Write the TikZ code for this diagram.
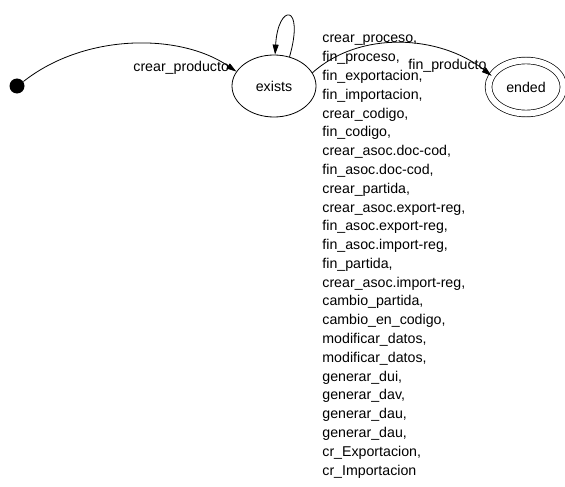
\documentclass[tikz,border=0pt]{standalone}
\usepackage{fontspec}
\setmainfont{Liberation Sans}
\usetikzlibrary{shapes.geometric,arrows.meta}

\tikzset{
  state/.style={ellipse, draw, line width=0.8pt, inner sep=0pt,
    minimum width=84pt, minimum height=62pt},
  final/.style={state, double, double distance=6pt, line width=0.7pt,
    minimum width=75pt, minimum height=53pt},
  startdot/.style={circle, fill=black, inner sep=0pt, minimum size=15pt},
  lbl/.style={inner sep=0pt, font=\fontsize{14.2}{17}\selectfont}
}

\begin{document}
\begin{tikzpicture}[x=1pt, y=-1pt, line width=0.8pt,
    >={Triangle[length=10pt,width=6pt]}]
        \useasboundingbox (0,0) rectangle (565,487);

        \node[startdot](init) at (17, 86) {};
        \node[state](exists) at (274, 86) {\fontsize{14.2}{17}\selectfont exists};
        \node[final](ended) at (526, 87) {\fontsize{14.2}{17}\selectfont ended};

        % transitions
        \draw[->] (init.35) .. controls (85,33) and (180,33) .. (exists.159);
        \draw[->] (exists.62) .. controls (305,3) and (278,3) .. (exists.88);
        \draw[->] (exists.19) .. controls (360,30) and (440,35) .. (ended.162);

        \node[lbl, anchor=base west](crear) at (133, 72) {crear\_producto};
        \node[lbl, anchor=base west](fin) at (408, 70) {fin\_producto};

        % events on the self loop, one line each
        \foreach \ev [count=\i from 0] in {crear\_proceso, fin\_proceso,
            fin\_exportacion, fin\_importacion, crear\_codigo, fin\_codigo,
            crear\_asoc.doc-cod, fin\_asoc.doc-cod, crear\_partida,
            crear\_asoc.export-reg, fin\_asoc.export-reg, fin\_asoc.import-reg,
            fin\_partida, crear\_asoc.import-reg, cambio\_partida,
            cambio\_en\_codigo, modificar\_datos, modificar\_datos, generar\_dui,
            generar\_dav, generar\_dau, generar\_dau, cr\_Exportacion}
          \node[lbl, anchor=base west](ev\i) at (322, 43+18.78*\i) {\ev,};
        \node[lbl, anchor=base west](evlast) at (322, 475) {cr\_Importacion};
      \end{tikzpicture}
\end{document}
